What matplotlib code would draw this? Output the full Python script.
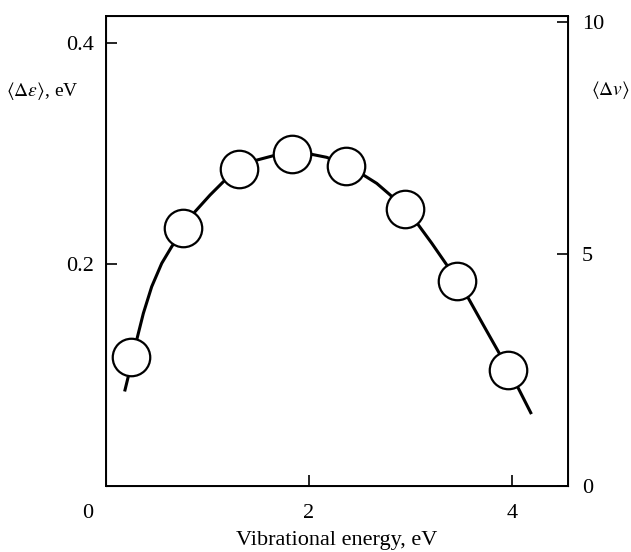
import matplotlib
matplotlib.use("Agg")
import matplotlib.pyplot as plt

plt.rcParams['font.family'] = ['Liberation Serif', 'DejaVu Serif']
plt.rcParams['mathtext.fontset'] = 'stix'

# measured points (circles)
energy = [0.25, 0.76, 1.31, 1.83, 2.36, 2.95, 3.455, 3.96]
delta_eps = [0.116, 0.2325, 0.2857, 0.2992, 0.289, 0.2496, 0.1852, 0.1046]

# smooth guide curve
curve_x = [0.187, 0.22, 0.253, 0.302, 0.368, 0.45, 0.549, 0.647, 0.762, 0.877, 1.025,
           1.156, 1.31, 1.485, 1.65, 1.83, 2.01, 2.174, 2.36, 2.535, 2.667, 2.8,
           2.95, 3.077, 3.209, 3.357, 3.455, 3.57, 3.717, 3.865, 3.96, 4.062, 4.184]
curve_y = [0.0866, 0.099, 0.113, 0.1317, 0.1558, 0.1798, 0.2009, 0.2159, 0.2315, 0.2475, 0.2625,
           0.2745, 0.2857, 0.294, 0.298, 0.3, 0.2995, 0.2965, 0.2895, 0.2806, 0.273, 0.2625,
           0.2496, 0.2355, 0.219, 0.1994, 0.1855, 0.1693, 0.1452, 0.1212, 0.1046, 0.0881, 0.0661]

fig = plt.figure(figsize=(6.31, 5.52), dpi=100)
ax = fig.add_axes([0.168, 0.1196, 0.732, 0.8514])

ax.plot(curve_x, curve_y, color='black', lw=2.2, zorder=2, solid_joinstyle='round')
ax.plot(energy, delta_eps, 'o', ms=27, mfc='white', mec='black', mew=1.6, zorder=3)

ax.set_xlim(0, 4.55)
ax.set_ylim(0, 0.424)
ax.set_xticks([2, 4])
ax.set_yticks([0.2, 0.4])
ax.set_yticklabels(['0.2', '0.4'])
ax.tick_params(direction='in', length=8, width=1.2, labelsize=16, top=False)
ax.tick_params(axis='x', pad=13)
ax.tick_params(axis='y', pad=9)
for s in ax.spines.values():
    s.set_linewidth(1.4)

ax2 = ax.twinx()
ax2.set_ylim(0, 10.13)
ax2.set_yticks([0, 5, 10])
ax2.tick_params(direction='in', length=8, width=1.2, labelsize=16, pad=10)

ax.annotate('0', xy=(0, 0), xycoords='axes fraction', xytext=(-13, -20),
            textcoords='offset points', ha='center', va='center', fontsize=16)

fig.text(42 / 631, 1 - 91 / 552, r'$\langle\Delta\varepsilon\rangle$, eV', ha='center', va='center', fontsize=14)
fig.text(610 / 631, 1 - 90 / 552, r'$\langle\Delta v\rangle$', ha='center', va='center', fontsize=14)
fig.text(337 / 631, 1 - 540 / 552, 'Vibrational energy, eV', ha='center', va='center', fontsize=16)

fig.savefig('out.png', dpi=100)
